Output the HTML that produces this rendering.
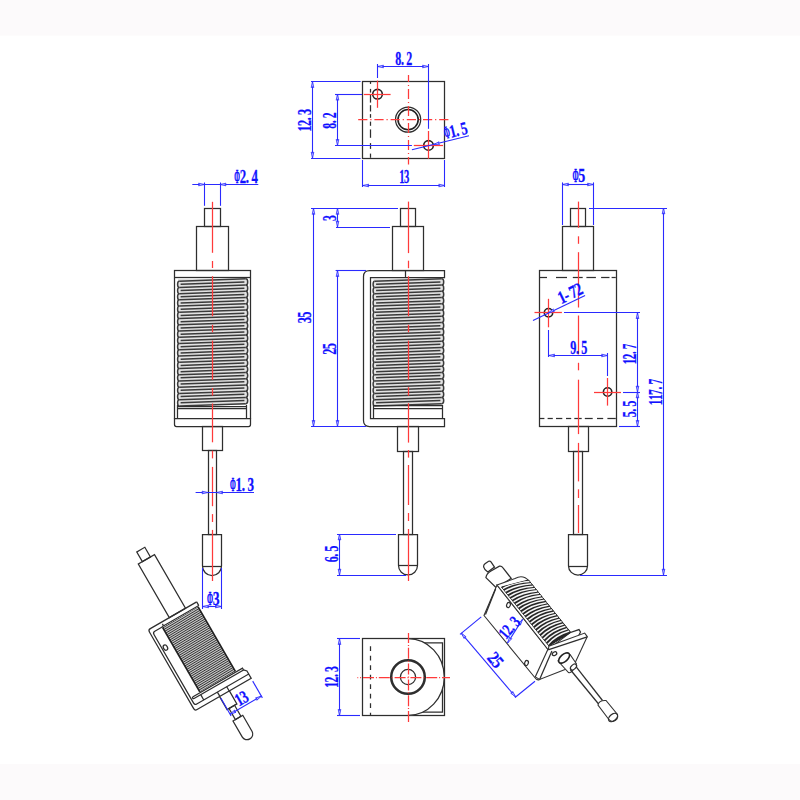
<!DOCTYPE html>
<html><head><meta charset="utf-8"><style>
html,body{margin:0;padding:0;background:#fff;}
body{width:800px;height:800px;overflow:hidden;position:relative;}
.band{position:absolute;left:0;width:800px;background:#fcfafb;}
svg{position:absolute;left:0;top:0;}
.k{fill:none;stroke:#2e2e2e;stroke-width:1.25;}
.k2{fill:none;stroke:#222;stroke-width:1.6;}
.cl{fill:none;stroke:#3a3a3a;stroke-width:1.5;}
.r{fill:none;stroke:#ff3a3a;stroke-width:1.25;}
.b{fill:none;stroke:#2a2aff;stroke-width:1.1;}
.kw{fill:#fff;stroke:#333;stroke-width:1.1;}
.k3{fill:none;stroke:#222;stroke-width:1.6;}
.cf{fill:#c4c4c4;stroke:none;}
.cs{fill:none;stroke:#2a2a2a;stroke-width:0.85;}
.ws{fill:none;stroke:#f6f6f6;stroke-width:1.55;}
.ar{fill:#c8c8ff;stroke:#2a2aff;stroke-width:0.8;}
text{font-family:"Liberation Serif",serif;font-weight:bold;fill:#1010ff;stroke:#1010ff;stroke-width:0.25;vector-effect:non-scaling-stroke;}
</style></head><body>
<div class="band" style="top:0;height:35px"></div><div class="band" style="top:35px;height:1px;background:#fdfcfc"></div>
<div class="band" style="top:764px;height:36px"></div>
<svg width="800" height="800" viewBox="0 0 800 800">
<rect x="362.50" y="81.50" width="82.00" height="77.00" class="k" />
<line x1="370.50" y1="81.60" x2="370.50" y2="83.90" class="k" />
<line x1="370.50" y1="88.90" x2="370.50" y2="92.60" class="k" />
<line x1="370.50" y1="94.70" x2="370.50" y2="102.60" class="k" />
<line x1="370.50" y1="105.20" x2="370.50" y2="111.50" class="k" />
<line x1="370.50" y1="114.10" x2="370.50" y2="117.80" class="k" />
<line x1="370.50" y1="121.60" x2="370.50" y2="125.80" class="k" />
<line x1="370.50" y1="129.40" x2="370.50" y2="137.80" class="k" />
<line x1="370.50" y1="143.10" x2="370.50" y2="148.90" class="k" />
<line x1="370.50" y1="153.60" x2="370.50" y2="157.80" class="k" />
<circle cx="408.10" cy="119.60" r="12.60" class="k" />
<circle cx="408.10" cy="119.60" r="10.10" class="k2" />
<circle cx="377.50" cy="94.20" r="4.80" class="k2" />
<circle cx="428.50" cy="145.40" r="4.80" class="k2" />
<line x1="357.00" y1="119.50" x2="450.00" y2="119.50" class="r" stroke-dasharray="9.2 2.9 1.2 2.9" stroke-dashoffset="15.00"/>
<line x1="408.50" y1="75.00" x2="408.50" y2="164.40" class="r" stroke-dasharray="10 2.9 1.2 2.9" stroke-dashoffset="3.00"/>
<line x1="363.80" y1="94.50" x2="390.60" y2="94.50" class="r" />
<line x1="377.50" y1="80.60" x2="377.50" y2="107.80" class="r" />
<line x1="413.80" y1="145.50" x2="443.00" y2="145.50" class="r" />
<line x1="428.50" y1="131.00" x2="428.50" y2="158.80" class="r" />
<line x1="312.50" y1="81.60" x2="312.50" y2="158.10" class="b" />
<line x1="311.00" y1="81.50" x2="360.60" y2="81.50" class="b" />
<line x1="311.00" y1="158.50" x2="360.60" y2="158.50" class="b" />
<polygon points="312.50,81.60 313.80,87.60 312.50,86.70 311.20,87.60" class="ar" />
<polygon points="312.50,158.10 311.20,152.10 312.50,153.00 313.80,152.10" class="ar" />
<g transform="translate(311.20,120.20) rotate(-90.00)"><text transform="translate(-11.29,0) scale(0.677,1)" font-size="18">1</text><text transform="translate(-5.79,0) scale(0.677,1)" font-size="18">2</text><text transform="translate(-0.11,0) scale(0.677,1)" font-size="18">.</text><text transform="translate(5.21,0) scale(0.677,1)" font-size="18">3</text></g>
<line x1="337.50" y1="94.20" x2="337.50" y2="145.40" class="b" />
<line x1="335.00" y1="94.50" x2="362.00" y2="94.50" class="b" />
<line x1="335.00" y1="145.50" x2="411.90" y2="145.50" class="b" />
<polygon points="337.50,94.20 338.80,100.20 337.50,99.30 336.20,100.20" class="ar" />
<polygon points="337.50,145.40 336.20,139.40 337.50,140.30 338.80,139.40" class="ar" />
<g transform="translate(336.40,120.60) rotate(-90.00)"><text transform="translate(-8.18,0) scale(0.648,1)" font-size="18">8</text><text transform="translate(-2.74,0) scale(0.648,1)" font-size="18">.</text><text transform="translate(2.35,0) scale(0.648,1)" font-size="18">2</text></g>
<line x1="377.50" y1="66.50" x2="428.50" y2="66.50" class="b" />
<line x1="377.50" y1="64.00" x2="377.50" y2="78.00" class="b" />
<line x1="428.50" y1="64.00" x2="428.50" y2="128.80" class="b" />
<polygon points="377.50,66.50 383.50,65.20 382.60,66.50 383.50,67.80" class="ar" />
<polygon points="428.50,66.50 422.50,67.80 423.40,66.50 422.50,65.20" class="ar" />
<g transform="translate(395.60,64.80)"><text transform="translate(-0.29,0) scale(0.668,1)" font-size="18">8</text><text transform="translate(5.32,0) scale(0.668,1)" font-size="18">.</text><text transform="translate(10.58,0) scale(0.668,1)" font-size="18">2</text></g>
<line x1="362.75" y1="185.50" x2="444.75" y2="185.50" class="b" />
<line x1="362.50" y1="160.00" x2="362.50" y2="187.00" class="b" />
<line x1="444.50" y1="160.00" x2="444.50" y2="187.00" class="b" />
<polygon points="362.75,185.50 368.75,184.20 367.85,185.50 368.75,186.80" class="ar" />
<polygon points="444.75,185.50 438.75,186.80 439.65,185.50 438.75,184.20" class="ar" />
<g transform="translate(399.40,182.80)"><text transform="translate(-0.26,0) scale(0.590,1)" font-size="18">1</text><text transform="translate(4.54,0) scale(0.590,1)" font-size="18">3</text></g>
<line x1="411.90" y1="149.75" x2="469.00" y2="135.80" class="b" />
<polygon points="433.50,144.50 439.02,141.81 438.45,143.29 439.64,144.34" class="ar" />
<g transform="translate(445.50,139.00) rotate(-13.70)"><text transform="translate(0.06,0) scale(0.386,1)" font-size="18">Φ</text><text transform="translate(5.56,0) scale(0.723,1)" font-size="18">1</text><text transform="translate(11.63,0) scale(0.723,1)" font-size="18">.</text><text transform="translate(17.31,0) scale(0.723,1)" font-size="18">5</text></g>
<rect x="204.50" y="208.50" width="16.00" height="18.00" class="k" />
<rect x="196.50" y="226.50" width="32.00" height="44.00" class="k" />
<rect x="174.50" y="270.50" width="76.00" height="7.00" class="k" />
<line x1="174.50" y1="277.80" x2="174.50" y2="418.70" class="k" />
<line x1="250.50" y1="277.80" x2="250.50" y2="418.70" class="k" />
<rect x="178.00" y="279.00" width="69.00" height="126.00" style="fill:#e2e2e2;stroke:none"/>
<path d="M179.20,281.15L245.80,278.85M180.60,284.27L244.40,281.97M179.20,287.39L245.80,285.09M180.60,290.51L244.40,288.21M179.20,293.63L245.80,291.33M180.60,296.75L244.40,294.45M179.20,299.87L245.80,297.57M180.60,302.99L244.40,300.69M179.20,306.11L245.80,303.81M180.60,309.23L244.40,306.93M179.20,312.35L245.80,310.05M180.60,315.47L244.40,313.17M179.20,318.59L245.80,316.29M180.60,321.71L244.40,319.41M179.20,324.83L245.80,322.53M180.60,327.95L244.40,325.65M179.20,331.07L245.80,328.77M180.60,334.19L244.40,331.89M179.20,337.31L245.80,335.01M180.60,340.43L244.40,338.13M179.20,343.55L245.80,341.25M180.60,346.67L244.40,344.37M179.20,349.79L245.80,347.49M180.60,352.91L244.40,350.61M179.20,356.03L245.80,353.73M180.60,359.15L244.40,356.85M179.20,362.27L245.80,359.97M180.60,365.39L244.40,363.09M179.20,368.51L245.80,366.21M180.60,371.63L244.40,369.33M179.20,374.75L245.80,372.45M180.60,377.87L244.40,375.57M179.20,380.99L245.80,378.69M180.60,384.11L244.40,381.81M179.20,387.23L245.80,384.93M180.60,390.35L244.40,388.05M179.20,393.47L245.80,391.17M180.60,396.59L244.40,394.29M179.20,399.71L245.80,397.41M180.60,402.83L244.40,400.53M179.20,405.95L245.80,403.65" class="cl" />
<path d="M179.20,281.15a1.6,3.12 0 0 0 0,6.24M179.20,287.39a1.6,3.12 0 0 0 0,6.24M179.20,293.63a1.6,3.12 0 0 0 0,6.24M179.20,299.87a1.6,3.12 0 0 0 0,6.24M179.20,306.11a1.6,3.12 0 0 0 0,6.24M179.20,312.35a1.6,3.12 0 0 0 0,6.24M179.20,318.59a1.6,3.12 0 0 0 0,6.24M179.20,324.83a1.6,3.12 0 0 0 0,6.24M179.20,331.07a1.6,3.12 0 0 0 0,6.24M179.20,337.31a1.6,3.12 0 0 0 0,6.24M179.20,343.55a1.6,3.12 0 0 0 0,6.24M179.20,349.79a1.6,3.12 0 0 0 0,6.24M179.20,356.03a1.6,3.12 0 0 0 0,6.24M179.20,362.27a1.6,3.12 0 0 0 0,6.24M179.20,368.51a1.6,3.12 0 0 0 0,6.24M179.20,374.75a1.6,3.12 0 0 0 0,6.24M179.20,380.99a1.6,3.12 0 0 0 0,6.24M179.20,387.23a1.6,3.12 0 0 0 0,6.24M179.20,393.47a1.6,3.12 0 0 0 0,6.24M179.20,399.71a1.6,3.12 0 0 0 0,6.24M245.80,278.85a1.9,3.12 0 0 1 0,6.24M245.80,285.09a1.9,3.12 0 0 1 0,6.24M245.80,291.33a1.9,3.12 0 0 1 0,6.24M245.80,297.57a1.9,3.12 0 0 1 0,6.24M245.80,303.81a1.9,3.12 0 0 1 0,6.24M245.80,310.05a1.9,3.12 0 0 1 0,6.24M245.80,316.29a1.9,3.12 0 0 1 0,6.24M245.80,322.53a1.9,3.12 0 0 1 0,6.24M245.80,328.77a1.9,3.12 0 0 1 0,6.24M245.80,335.01a1.9,3.12 0 0 1 0,6.24M245.80,341.25a1.9,3.12 0 0 1 0,6.24M245.80,347.49a1.9,3.12 0 0 1 0,6.24M245.80,353.73a1.9,3.12 0 0 1 0,6.24M245.80,359.97a1.9,3.12 0 0 1 0,6.24M245.80,366.21a1.9,3.12 0 0 1 0,6.24M245.80,372.45a1.9,3.12 0 0 1 0,6.24M245.80,378.69a1.9,3.12 0 0 1 0,6.24M245.80,384.93a1.9,3.12 0 0 1 0,6.24M245.80,391.17a1.9,3.12 0 0 1 0,6.24M245.80,397.41a1.9,3.12 0 0 1 0,6.24" class="cl" />
<line x1="177.50" y1="405.00" x2="177.50" y2="418.70" class="k" />
<line x1="246.50" y1="405.00" x2="246.50" y2="418.70" class="k" />
<line x1="178.00" y1="406.50" x2="246.50" y2="406.50" class="k" />
<line x1="178.00" y1="408.50" x2="246.50" y2="408.50" class="k" />
<path d="M174.5,418.5 L250.5,418.5 L250.5,424.5 Q250.5,426.5 248.5,426.5 L176.5,426.5 Q174.5,426.5 174.5,424.5 Z" class="k" />
<rect x="202.50" y="426.50" width="20.00" height="24.00" class="k" />
<rect x="208.50" y="450.50" width="8.00" height="84.00" class="k" />
<path d="M202.5,566 L202.5,534.5 L221.5,534.5 L221.5,566 A9.5,9.6 0 0 1 202.5,566 Z" class="k" />
<line x1="202.60" y1="566.50" x2="221.40" y2="566.50" class="k" />
<line x1="212.50" y1="201.80" x2="212.50" y2="252.80" class="r" />
<line x1="212.50" y1="261.00" x2="212.50" y2="268.00" class="r" />
<line x1="212.50" y1="276.20" x2="212.50" y2="316.20" class="r" />
<line x1="212.50" y1="324.80" x2="212.50" y2="332.30" class="r" />
<line x1="212.50" y1="340.60" x2="212.50" y2="379.80" class="r" />
<line x1="212.50" y1="388.00" x2="212.50" y2="395.60" class="r" />
<line x1="212.50" y1="403.50" x2="212.50" y2="442.30" class="r" />
<line x1="212.50" y1="450.70" x2="212.50" y2="458.40" class="r" />
<line x1="212.50" y1="466.90" x2="212.50" y2="506.20" class="r" />
<line x1="212.50" y1="514.10" x2="212.50" y2="522.00" class="r" />
<line x1="212.50" y1="529.90" x2="212.50" y2="581.00" class="r" />
<line x1="204.50" y1="182.50" x2="204.50" y2="205.80" class="b" />
<line x1="220.50" y1="182.50" x2="220.50" y2="205.80" class="b" />
<line x1="192.30" y1="184.50" x2="258.30" y2="184.50" class="b" />
<polygon points="204.50,184.50 198.50,185.80 199.40,184.50 198.50,183.20" class="ar" />
<polygon points="220.00,184.50 226.00,183.20 225.10,184.50 226.00,185.80" class="ar" />
<g transform="translate(234.30,183.20)"><text transform="translate(0.06,0) scale(0.381,1)" font-size="18">Φ</text><text transform="translate(5.49,0) scale(0.713,1)" font-size="18">2</text><text transform="translate(11.48,0) scale(0.713,1)" font-size="18">.</text><text transform="translate(17.09,0) scale(0.713,1)" font-size="18">4</text></g>
<line x1="195.60" y1="492.50" x2="254.00" y2="492.50" class="b" />
<polygon points="208.00,492.50 202.00,493.80 202.90,492.50 202.00,491.20" class="ar" />
<polygon points="216.60,492.50 222.60,491.20 221.70,492.50 222.60,493.80" class="ar" />
<g transform="translate(230.00,491.00)"><text transform="translate(0.06,0) scale(0.387,1)" font-size="18">Φ</text><text transform="translate(5.58,0) scale(0.726,1)" font-size="18">1</text><text transform="translate(11.68,0) scale(0.726,1)" font-size="18">.</text><text transform="translate(17.38,0) scale(0.726,1)" font-size="18">3</text></g>
<line x1="202.50" y1="568.00" x2="202.50" y2="609.00" class="b" />
<line x1="221.50" y1="568.00" x2="221.50" y2="609.00" class="b" />
<line x1="202.60" y1="606.50" x2="221.40" y2="606.50" class="b" />
<polygon points="202.60,606.50 208.60,605.20 207.70,606.50 208.60,607.80" class="ar" />
<polygon points="221.40,606.50 215.40,607.80 216.30,606.50 215.40,605.20" class="ar" />
<g transform="translate(207.00,605.00)"><text transform="translate(0.06,0) scale(0.407,1)" font-size="18">Φ</text><text transform="translate(5.87,0) scale(0.763,1)" font-size="18">3</text></g>
<rect x="400.50" y="208.50" width="15.00" height="18.00" class="k" />
<rect x="392.50" y="226.50" width="31.00" height="44.00" class="k" />
<path d="M444.5,270.5 L369.5,270.5 Q363.5,270.5 363.5,276.5 L363.5,420.5 Q363.5,426.5 369.5,426.5 L444.5,426.5 L444.5,418.5 L370.5,418.5 L370.5,277.5 L444.5,277.5 Z" class="k" />
<line x1="405.50" y1="270.60" x2="405.50" y2="277.40" class="k" />
<rect x="373.50" y="279.00" width="69.50" height="126.00" style="fill:#e2e2e2;stroke:none"/>
<path d="M374.70,281.15L441.80,278.85M376.10,284.27L440.40,281.97M374.70,287.39L441.80,285.09M376.10,290.51L440.40,288.21M374.70,293.63L441.80,291.33M376.10,296.75L440.40,294.45M374.70,299.87L441.80,297.57M376.10,302.99L440.40,300.69M374.70,306.11L441.80,303.81M376.10,309.23L440.40,306.93M374.70,312.35L441.80,310.05M376.10,315.47L440.40,313.17M374.70,318.59L441.80,316.29M376.10,321.71L440.40,319.41M374.70,324.83L441.80,322.53M376.10,327.95L440.40,325.65M374.70,331.07L441.80,328.77M376.10,334.19L440.40,331.89M374.70,337.31L441.80,335.01M376.10,340.43L440.40,338.13M374.70,343.55L441.80,341.25M376.10,346.67L440.40,344.37M374.70,349.79L441.80,347.49M376.10,352.91L440.40,350.61M374.70,356.03L441.80,353.73M376.10,359.15L440.40,356.85M374.70,362.27L441.80,359.97M376.10,365.39L440.40,363.09M374.70,368.51L441.80,366.21M376.10,371.63L440.40,369.33M374.70,374.75L441.80,372.45M376.10,377.87L440.40,375.57M374.70,380.99L441.80,378.69M376.10,384.11L440.40,381.81M374.70,387.23L441.80,384.93M376.10,390.35L440.40,388.05M374.70,393.47L441.80,391.17M376.10,396.59L440.40,394.29M374.70,399.71L441.80,397.41M376.10,402.83L440.40,400.53M374.70,405.95L441.80,403.65" class="cl" />
<path d="M374.70,281.15a1.6,3.12 0 0 0 0,6.24M374.70,287.39a1.6,3.12 0 0 0 0,6.24M374.70,293.63a1.6,3.12 0 0 0 0,6.24M374.70,299.87a1.6,3.12 0 0 0 0,6.24M374.70,306.11a1.6,3.12 0 0 0 0,6.24M374.70,312.35a1.6,3.12 0 0 0 0,6.24M374.70,318.59a1.6,3.12 0 0 0 0,6.24M374.70,324.83a1.6,3.12 0 0 0 0,6.24M374.70,331.07a1.6,3.12 0 0 0 0,6.24M374.70,337.31a1.6,3.12 0 0 0 0,6.24M374.70,343.55a1.6,3.12 0 0 0 0,6.24M374.70,349.79a1.6,3.12 0 0 0 0,6.24M374.70,356.03a1.6,3.12 0 0 0 0,6.24M374.70,362.27a1.6,3.12 0 0 0 0,6.24M374.70,368.51a1.6,3.12 0 0 0 0,6.24M374.70,374.75a1.6,3.12 0 0 0 0,6.24M374.70,380.99a1.6,3.12 0 0 0 0,6.24M374.70,387.23a1.6,3.12 0 0 0 0,6.24M374.70,393.47a1.6,3.12 0 0 0 0,6.24M374.70,399.71a1.6,3.12 0 0 0 0,6.24M441.80,278.85a1.9,3.12 0 0 1 0,6.24M441.80,285.09a1.9,3.12 0 0 1 0,6.24M441.80,291.33a1.9,3.12 0 0 1 0,6.24M441.80,297.57a1.9,3.12 0 0 1 0,6.24M441.80,303.81a1.9,3.12 0 0 1 0,6.24M441.80,310.05a1.9,3.12 0 0 1 0,6.24M441.80,316.29a1.9,3.12 0 0 1 0,6.24M441.80,322.53a1.9,3.12 0 0 1 0,6.24M441.80,328.77a1.9,3.12 0 0 1 0,6.24M441.80,335.01a1.9,3.12 0 0 1 0,6.24M441.80,341.25a1.9,3.12 0 0 1 0,6.24M441.80,347.49a1.9,3.12 0 0 1 0,6.24M441.80,353.73a1.9,3.12 0 0 1 0,6.24M441.80,359.97a1.9,3.12 0 0 1 0,6.24M441.80,366.21a1.9,3.12 0 0 1 0,6.24M441.80,372.45a1.9,3.12 0 0 1 0,6.24M441.80,378.69a1.9,3.12 0 0 1 0,6.24M441.80,384.93a1.9,3.12 0 0 1 0,6.24M441.80,391.17a1.9,3.12 0 0 1 0,6.24M441.80,397.41a1.9,3.12 0 0 1 0,6.24" class="cl" />
<line x1="373.50" y1="405.00" x2="373.50" y2="419.00" class="k" />
<line x1="442.50" y1="405.00" x2="442.50" y2="419.00" class="k" />
<line x1="373.50" y1="405.50" x2="443.00" y2="405.50" class="k" />
<line x1="373.50" y1="408.50" x2="443.00" y2="408.50" class="k" />
<rect x="397.50" y="426.50" width="21.00" height="25.00" class="k" />
<rect x="403.50" y="451.50" width="9.00" height="83.00" class="k" />
<path d="M398.5,565.6 L398.5,534.5 L417.5,534.5 L417.5,565.6 A9.5,9.4 0 0 1 398.5,565.6 Z" class="k" />
<line x1="398.60" y1="565.50" x2="417.50" y2="565.50" class="k" />
<line x1="408.50" y1="201.60" x2="408.50" y2="253.10" class="r" />
<line x1="408.50" y1="260.70" x2="408.50" y2="268.20" class="r" />
<line x1="408.50" y1="276.20" x2="408.50" y2="316.20" class="r" />
<line x1="408.50" y1="324.80" x2="408.50" y2="332.30" class="r" />
<line x1="408.50" y1="340.60" x2="408.50" y2="379.70" class="r" />
<line x1="408.50" y1="387.20" x2="408.50" y2="395.70" class="r" />
<line x1="408.50" y1="403.20" x2="408.50" y2="442.60" class="r" />
<line x1="408.50" y1="450.00" x2="408.50" y2="457.60" class="r" />
<line x1="408.50" y1="465.00" x2="408.50" y2="505.00" class="r" />
<line x1="408.50" y1="513.00" x2="408.50" y2="521.00" class="r" />
<line x1="408.50" y1="529.00" x2="408.50" y2="581.00" class="r" />
<line x1="337.50" y1="208.40" x2="337.50" y2="227.00" class="b" />
<line x1="311.00" y1="208.50" x2="398.00" y2="208.50" class="b" />
<line x1="336.00" y1="227.50" x2="390.00" y2="227.50" class="b" />
<polygon points="337.50,208.40 338.80,214.40 337.50,213.50 336.20,214.40" class="ar" />
<polygon points="337.50,227.00 336.20,221.00 337.50,221.90 338.80,221.00" class="ar" />
<g transform="translate(335.80,218.00) rotate(-90.00)"><text transform="translate(-2.93,0) scale(0.652,1)" font-size="18">3</text></g>
<line x1="313.50" y1="208.40" x2="313.50" y2="426.40" class="b" />
<polygon points="313.50,208.40 314.80,214.40 313.50,213.50 312.20,214.40" class="ar" />
<polygon points="313.50,426.40 312.20,420.40 313.50,421.30 314.80,420.40" class="ar" />
<g transform="translate(310.80,317.50) rotate(-90.00)"><text transform="translate(-5.79,0) scale(0.677,1)" font-size="18">3</text><text transform="translate(-0.29,0) scale(0.677,1)" font-size="18">5</text></g>
<line x1="337.50" y1="270.60" x2="337.50" y2="426.40" class="b" />
<line x1="335.60" y1="270.50" x2="366.00" y2="270.50" class="b" />
<line x1="311.00" y1="426.50" x2="366.00" y2="426.50" class="b" />
<polygon points="337.50,270.60 338.80,276.60 337.50,275.70 336.20,276.60" class="ar" />
<polygon points="337.50,426.40 336.20,420.40 337.50,421.30 338.80,420.40" class="ar" />
<g transform="translate(335.50,349.00) rotate(-90.00)"><text transform="translate(-5.79,0) scale(0.677,1)" font-size="18">2</text><text transform="translate(-0.29,0) scale(0.677,1)" font-size="18">5</text></g>
<line x1="339.50" y1="534.00" x2="339.50" y2="575.00" class="b" />
<line x1="337.00" y1="534.50" x2="396.00" y2="534.50" class="b" />
<line x1="337.00" y1="575.50" x2="406.00" y2="575.50" class="b" />
<polygon points="339.50,534.00 340.80,540.00 339.50,539.10 338.20,540.00" class="ar" />
<polygon points="339.50,575.00 338.20,569.00 339.50,569.90 340.80,569.00" class="ar" />
<g transform="translate(338.00,554.00) rotate(-90.00)"><text transform="translate(-8.29,0) scale(0.656,1)" font-size="18">6</text><text transform="translate(-2.77,0) scale(0.656,1)" font-size="18">.</text><text transform="translate(2.38,0) scale(0.656,1)" font-size="18">5</text></g>
<rect x="570.50" y="208.50" width="15.00" height="18.00" class="k" />
<rect x="562.50" y="226.50" width="31.00" height="44.00" class="k" />
<rect x="539.50" y="270.50" width="77.00" height="156.00" class="k" />
<line x1="539.70" y1="277.50" x2="547.00" y2="277.50" class="k" />
<line x1="556.00" y1="277.50" x2="567.00" y2="277.50" class="k" />
<line x1="572.80" y1="277.50" x2="582.70" y2="277.50" class="k" />
<line x1="586.40" y1="277.50" x2="595.90" y2="277.50" class="k" />
<line x1="601.10" y1="277.50" x2="609.50" y2="277.50" class="k" />
<line x1="611.60" y1="277.50" x2="615.80" y2="277.50" class="k" />
<line x1="539.70" y1="418.50" x2="544.40" y2="418.50" class="k" />
<line x1="547.60" y1="418.50" x2="552.80" y2="418.50" class="k" />
<line x1="556.00" y1="418.50" x2="562.30" y2="418.50" class="k" />
<line x1="566.00" y1="418.50" x2="571.20" y2="418.50" class="k" />
<line x1="574.30" y1="418.50" x2="581.70" y2="418.50" class="k" />
<line x1="584.80" y1="418.50" x2="592.70" y2="418.50" class="k" />
<line x1="597.00" y1="418.50" x2="603.20" y2="418.50" class="k" />
<line x1="607.40" y1="418.50" x2="615.80" y2="418.50" class="k" />
<circle cx="548.50" cy="312.70" r="4.20" class="k2" />
<circle cx="607.60" cy="392.00" r="4.20" class="k2" />
<line x1="534.50" y1="312.50" x2="561.90" y2="312.50" class="r" />
<line x1="548.50" y1="298.80" x2="548.50" y2="327.30" class="r" />
<line x1="594.00" y1="392.50" x2="621.00" y2="392.50" class="r" />
<line x1="607.50" y1="378.00" x2="607.50" y2="405.60" class="r" />
<rect x="568.50" y="426.50" width="20.00" height="25.00" class="k" />
<rect x="573.50" y="451.50" width="9.00" height="83.00" class="k" />
<path d="M568.5,566 L568.5,534.5 L587.5,534.5 L587.5,566 A9.5,9 0 0 1 568.5,566 Z" class="k" />
<line x1="568.40" y1="566.50" x2="587.60" y2="566.50" class="k" />
<line x1="578.50" y1="201.60" x2="578.50" y2="227.80" class="r" />
<line x1="578.50" y1="236.30" x2="578.50" y2="243.80" class="r" />
<line x1="578.50" y1="252.20" x2="578.50" y2="307.50" class="r" />
<line x1="578.50" y1="315.50" x2="578.50" y2="354.40" class="r" />
<line x1="578.50" y1="362.80" x2="578.50" y2="370.30" class="r" />
<line x1="578.50" y1="379.70" x2="578.50" y2="434.10" class="r" />
<line x1="578.50" y1="442.90" x2="578.50" y2="481.40" class="r" />
<line x1="578.50" y1="489.30" x2="578.50" y2="498.00" class="r" />
<line x1="578.50" y1="505.00" x2="578.50" y2="533.00" class="r" />
<line x1="562.50" y1="182.40" x2="562.50" y2="225.00" class="b" />
<line x1="593.50" y1="182.40" x2="593.50" y2="225.00" class="b" />
<line x1="562.40" y1="184.50" x2="593.20" y2="184.50" class="b" />
<polygon points="562.50,184.50 568.50,183.20 567.60,184.50 568.50,185.80" class="ar" />
<polygon points="593.50,184.50 587.50,185.80 588.40,184.50 587.50,183.20" class="ar" />
<g transform="translate(572.40,182.40)"><text transform="translate(0.06,0) scale(0.414,1)" font-size="18">Φ</text><text transform="translate(5.96,0) scale(0.775,1)" font-size="18">5</text></g>
<line x1="663.50" y1="208.00" x2="663.50" y2="575.00" class="b" />
<line x1="589.00" y1="208.50" x2="667.00" y2="208.50" class="b" />
<line x1="580.00" y1="575.50" x2="667.00" y2="575.50" class="b" />
<polygon points="663.50,208.00 664.80,214.00 663.50,213.10 662.20,214.00" class="ar" />
<polygon points="663.50,575.00 662.20,569.00 663.50,569.90 664.80,569.00" class="ar" />
<g transform="translate(662.00,392.00) rotate(-90.00)"><text transform="translate(-13.28,0) scale(0.640,1)" font-size="18">1</text><text transform="translate(-8.08,0) scale(0.640,1)" font-size="18">1</text><text transform="translate(-2.88,0) scale(0.640,1)" font-size="18">7</text><text transform="translate(2.50,0) scale(0.640,1)" font-size="18">.</text><text transform="translate(7.52,0) scale(0.640,1)" font-size="18">7</text></g>
<line x1="533.00" y1="320.50" x2="585.10" y2="295.40" class="b" />
<polygon points="548.50,312.70 553.34,308.92 553.09,310.49 554.47,311.27" class="ar" />
<g transform="translate(561.50,304.00) rotate(-25.70)"><text transform="translate(-0.33,0) scale(0.769,1)" font-size="18">1</text><text transform="translate(5.92,0) scale(0.769,1)" font-size="18">-</text><text transform="translate(12.17,0) scale(0.769,1)" font-size="18">7</text><text transform="translate(18.42,0) scale(0.769,1)" font-size="18">2</text></g>
<line x1="548.50" y1="330.00" x2="548.50" y2="357.00" class="b" />
<line x1="607.50" y1="353.00" x2="607.50" y2="376.00" class="b" />
<line x1="548.60" y1="355.50" x2="607.60" y2="355.50" class="b" />
<polygon points="548.60,355.50 554.60,354.20 553.70,355.50 554.60,356.80" class="ar" />
<polygon points="607.60,355.50 601.60,356.80 602.50,355.50 601.60,354.20" class="ar" />
<g transform="translate(570.50,354.00)"><text transform="translate(-0.29,0) scale(0.677,1)" font-size="18">9</text><text transform="translate(5.39,0) scale(0.677,1)" font-size="18">.</text><text transform="translate(10.71,0) scale(0.677,1)" font-size="18">5</text></g>
<line x1="637.50" y1="312.70" x2="637.50" y2="426.40" class="b" />
<line x1="564.00" y1="312.50" x2="640.00" y2="312.50" class="b" />
<line x1="623.00" y1="392.50" x2="640.00" y2="392.50" class="b" />
<line x1="619.00" y1="426.50" x2="640.00" y2="426.50" class="b" />
<polygon points="637.50,312.70 638.80,318.70 637.50,317.80 636.20,318.70" class="ar" />
<polygon points="637.50,392.00 636.20,386.00 637.50,386.90 638.80,386.00" class="ar" />
<polygon points="637.50,392.00 638.80,398.00 637.50,397.10 636.20,398.00" class="ar" />
<polygon points="637.50,426.40 636.20,420.40 637.50,421.30 638.80,420.40" class="ar" />
<g transform="translate(636.20,354.00) rotate(-90.00)"><text transform="translate(-10.27,0) scale(0.615,1)" font-size="18">1</text><text transform="translate(-5.27,0) scale(0.615,1)" font-size="18">2</text><text transform="translate(-0.10,0) scale(0.615,1)" font-size="18">.</text><text transform="translate(4.73,0) scale(0.615,1)" font-size="18">7</text></g>
<g transform="translate(636.20,409.00) rotate(-90.00)"><text transform="translate(-8.29,0) scale(0.656,1)" font-size="18">5</text><text transform="translate(-2.77,0) scale(0.656,1)" font-size="18">.</text><text transform="translate(2.38,0) scale(0.656,1)" font-size="18">5</text></g>
<rect x="362.50" y="638.50" width="82.00" height="77.00" class="k" />
<line x1="370.50" y1="646.20" x2="370.50" y2="715.40" class="k" stroke-dasharray="4.8 4.7"/>
<path d="M418,642.8 L442.5,642.8 L442.5,712 L418,712" class="k" />
<path d="M408,638.6 A36.3,38.4 0 0 1 408,715.4" class="k" style="fill:#fff"/>
<circle cx="408.00" cy="677.00" r="16.80" class="k" style="stroke-width:2.5"/>
<circle cx="408.00" cy="677.00" r="7.60" class="k" />
<line x1="357.40" y1="677.50" x2="450.00" y2="677.50" class="r" stroke-dasharray="11 1.9 1 1.9" stroke-dashoffset="10.20"/>
<line x1="408.50" y1="633.00" x2="408.50" y2="722.00" class="r" stroke-dasharray="11 1.9 1 1.9" stroke-dashoffset="1.00"/>
<line x1="339.50" y1="638.60" x2="339.50" y2="715.40" class="b" />
<line x1="337.00" y1="638.50" x2="360.00" y2="638.50" class="b" />
<line x1="337.00" y1="715.50" x2="360.00" y2="715.50" class="b" />
<polygon points="339.50,638.60 340.80,644.60 339.50,643.70 338.20,644.60" class="ar" />
<polygon points="339.50,715.40 338.20,709.40 339.50,710.30 340.80,709.40" class="ar" />
<g transform="translate(338.00,677.00) rotate(-90.00)"><text transform="translate(-10.78,0) scale(0.646,1)" font-size="18">1</text><text transform="translate(-5.53,0) scale(0.646,1)" font-size="18">2</text><text transform="translate(-0.10,0) scale(0.646,1)" font-size="18">.</text><text transform="translate(4.97,0) scale(0.646,1)" font-size="18">3</text></g>
<defs><clipPath id="clL"><rect x="13" y="5" width="41.5" height="74.5"/></clipPath></defs>
<g transform="translate(148.6,629.6) rotate(-30)">
<rect x="28.60" y="-73.20" width="9.30" height="11.20" class="k" />
<rect x="23.90" y="-62.00" width="18.70" height="62.00" class="k" />
<path d="M55.5,0 L2,0 Q-0.5,0 -0.5,2.5 L-0.5,91 Q-0.5,93.5 2,93.5 L64.5,93.5 L64.5,88.5 L4.5,88.5 Q2.2,88.5 2.2,86.2 L2.2,6.9 Q2.2,4.6 4.5,4.6 L13,4.6" class="k" />
<line x1="55.50" y1="0.00" x2="55.50" y2="4.30" class="k" />
<line x1="13.00" y1="4.30" x2="55.50" y2="4.30" class="k" />
<line x1="14.80" y1="2.00" x2="14.80" y2="4.30" class="k" />
<rect x="13.00" y="5.00" width="41.50" height="74.50" class="cf" />
<path d="M13,5.60L54.5,5.00M13,7.60L54.5,7.00M13,9.60L54.5,9.00M13,11.60L54.5,11.00M13,13.60L54.5,13.00M13,15.60L54.5,15.00M13,17.60L54.5,17.00M13,19.60L54.5,19.00M13,21.60L54.5,21.00M13,23.60L54.5,23.00M13,25.60L54.5,25.00M13,27.60L54.5,27.00M13,29.60L54.5,29.00M13,31.60L54.5,31.00M13,33.60L54.5,33.00M13,35.60L54.5,35.00M13,37.60L54.5,37.00M13,39.60L54.5,39.00M13,41.60L54.5,41.00M13,43.60L54.5,43.00M13,45.60L54.5,45.00M13,47.60L54.5,47.00M13,49.60L54.5,49.00M13,51.60L54.5,51.00M13,53.60L54.5,53.00M13,55.60L54.5,55.00M13,57.60L54.5,57.00M13,59.60L54.5,59.00M13,61.60L54.5,61.00M13,63.60L54.5,63.00M13,65.60L54.5,65.00M13,67.60L54.5,67.00M13,69.60L54.5,69.00M13,71.60L54.5,71.00M13,73.60L54.5,73.00M13,75.60L54.5,75.00M13,77.60L54.5,77.00M13,79.60L54.5,79.00" class="cs" clip-path="url(#clL)"/>
<line x1="13.20" y1="5.00" x2="13.20" y2="79.50" class="k3" />
<line x1="54.30" y1="5.00" x2="54.30" y2="79.50" class="k3" />
<path d="M4.9,80.4 L62,80.4 L62,82.4 L4.9,82.4 Q3.9,82.4 3.9,81.4 Q3.9,80.4 4.9,80.4 Z" class="k" />
<path d="M62,82.4 L64.5,85 L64.5,88.5" class="k" />
<line x1="12.60" y1="82.40" x2="12.60" y2="88.50" class="k" />
<ellipse cx="5.6" cy="24" rx="2" ry="2.8" class="k"/>
<path d="M28,93.5 L28,108.5 L39.3,108.5 L39.3,93.5" class="k" />
<line x1="28.30" y1="88.50" x2="28.30" y2="93.50" class="k" />
<line x1="39.10" y1="88.50" x2="39.10" y2="93.50" class="k" />
<rect x="30.20" y="108.50" width="6.40" height="12.80" class="k" />
<path d="M27.4,121.3 L38.7,121.3 L38.7,140 A5.65,5.3 0 0 1 27.4,140 Z" class="k" />
<line x1="28.30" y1="95.40" x2="28.30" y2="116.00" class="b" />
<line x1="64.40" y1="96.70" x2="64.40" y2="116.00" class="b" />
<line x1="28.30" y1="114.00" x2="64.40" y2="114.00" class="b" />
<polygon points="28.30,114.00 34.30,112.70 33.40,114.00 34.30,115.30" class="ar" />
<polygon points="64.40,114.00 58.40,115.30 59.30,114.00 58.40,112.70" class="ar" />
<g transform="translate(40.20,111.90)"><text transform="translate(-0.32,0) scale(0.738,1)" font-size="18">1</text><text transform="translate(5.68,0) scale(0.738,1)" font-size="18">3</text></g>
</g>
<defs><clipPath id="clR"><polygon points="501.5,587 528.5,580 570.5,632.5 549,646"/></clipPath></defs>
<path d="M483.6,566.8 Q483.5,565 485,563.8 L488.6,561.3 Q490,560.6 491,561.8 L494.5,567.1 L487.8,572 Q484.5,570 483.6,566.8 Z" class="k" />
<path d="M485.9,577.6 Q486.5,573.5 491,571 L499.4,566.2 Q501.5,565.8 502.8,567.6 L511.2,578.4 L496.2,587.8 Z" class="k" />
<path d="M497,585 L548,649.5 L539.6,679.5 Q537,681 534.4,677 L484,615.5 Z" class="kw" />
<line x1="495.60" y1="589.00" x2="485.50" y2="614.50" class="k" />
<path d="M497,585 L515,578.5 Q523,574 529,581 L570.5,632.5 L548,649.5 Z" class="kw" />
<polygon points="501.5,587 528.5,580 570.5,632.5 549,646" fill="#262626" stroke="#222" stroke-width="1"/>
<path d="M502.78,588.59Q514.01,582.21 529.64,581.42M504.92,591.25Q516.03,584.72 531.53,583.78M507.06,593.91Q518.04,587.23 533.42,586.15M509.20,596.57Q520.06,589.74 535.31,588.51M511.34,599.23Q522.07,592.25 537.20,590.88M513.48,601.88Q524.09,594.76 539.09,593.24M515.62,604.54Q526.10,597.27 540.99,595.61M517.76,607.20Q528.12,599.79 542.88,597.97M519.90,609.86Q530.14,602.30 544.77,600.34M522.04,612.51Q532.15,604.81 546.66,602.70M524.18,615.17Q534.17,607.32 548.55,605.07M526.32,617.83Q536.18,609.83 550.45,607.43M528.46,620.49Q538.20,612.34 552.34,609.80M530.60,623.14Q540.21,614.85 554.23,612.16M532.74,625.80Q542.23,617.36 556.12,614.53M534.88,628.46Q544.25,619.88 558.01,616.89M537.02,631.12Q546.26,622.39 559.91,619.26M539.16,633.77Q548.28,624.90 561.80,621.62M541.30,636.43Q550.29,627.41 563.69,623.99M543.44,639.09Q552.31,629.92 565.58,626.35M545.58,641.75Q554.32,632.43 567.47,628.72M547.72,644.41Q556.34,634.94 569.36,631.08" class="ws" clip-path="url(#clR)"/>
<path d="M566,634 L579,629.6 L580.5,632 L576,641" class="k" />
<path d="M548.4,649.7 L548.8,646.2 L584.7,633.1 L587.3,636.6 L575.5,662 L565,669.4 L539.6,679.5 L535.25,676.9 L547.5,650.2 Z" class="kw" />
<line x1="548.80" y1="649.70" x2="587.30" y2="636.90" class="k" />
<line x1="551.90" y1="651.00" x2="539.60" y2="679.50" class="k" />
<ellipse cx="554.5" cy="653.7" rx="2.4" ry="1.7" class="k" transform="rotate(-30 554.5 653.7)"/>
<ellipse cx="508.5" cy="605" rx="1.8" ry="2.6" class="k" transform="rotate(20 508.5 605)"/>
<ellipse cx="526.5" cy="663" rx="1.8" ry="2.6" class="k" transform="rotate(20 526.5 663)"/>
<path d="M558,661 L568.5,672.5 Q572,674 576.4,663.7 L570.2,654.6 Z" class="kw" />
<ellipse cx="564.1" cy="658" rx="6.6" ry="3.6" class="k2" style="fill:#fff" transform="rotate(-42 564.1 658)"/>
<ellipse cx="573.5" cy="667" rx="3.6" ry="2.2" class="k" style="fill:#fff" transform="rotate(-42 573.5 667)"/>
<line x1="570.20" y1="669.50" x2="599.00" y2="704.50" class="k" />
<line x1="576.40" y1="667.20" x2="602.50" y2="700.50" class="k" />
<path d="M598,705 Q599,700 606,700.5 L617.5,714.5 Q619,720 612.5,721.5 Q610,721 608.5,719 Z" class="kw" />
<ellipse cx="613" cy="717.5" rx="5.2" ry="3.2" class="k" transform="rotate(-40 613 717.5)"/>
<line x1="461.25" y1="633.10" x2="515.60" y2="696.90" class="b" />
<line x1="481.25" y1="616.90" x2="460.00" y2="634.40" class="b" />
<line x1="535.00" y1="681.25" x2="515.00" y2="697.50" class="b" />
<polygon points="461.25,633.10 466.12,636.84 464.55,636.99 464.13,638.52" class="ar" />
<polygon points="515.60,696.90 510.73,693.16 512.30,693.01 512.72,691.48" class="ar" />
<g transform="translate(486.50,658.50) rotate(49.70)"><text transform="translate(-0.38,0) scale(0.861,1)" font-size="18">2</text><text transform="translate(6.62,0) scale(0.861,1)" font-size="18">5</text></g>
<line x1="507.50" y1="643.00" x2="522.50" y2="619.40" class="b" />
<polygon points="507.50,643.00 509.62,637.24 510.24,638.70 511.82,638.63" class="ar" />
<polygon points="522.50,619.40 520.38,625.16 519.76,623.70 518.18,623.77" class="ar" />
<g transform="translate(506.30,639.80) rotate(-49.00)"><text transform="translate(-0.30,0) scale(0.733,1)" font-size="17">1</text><text transform="translate(5.32,0) scale(0.733,1)" font-size="17">2</text><text transform="translate(11.14,0) scale(0.733,1)" font-size="17">.</text><text transform="translate(16.57,0) scale(0.733,1)" font-size="17">3</text></g>
</svg>
</body></html>
